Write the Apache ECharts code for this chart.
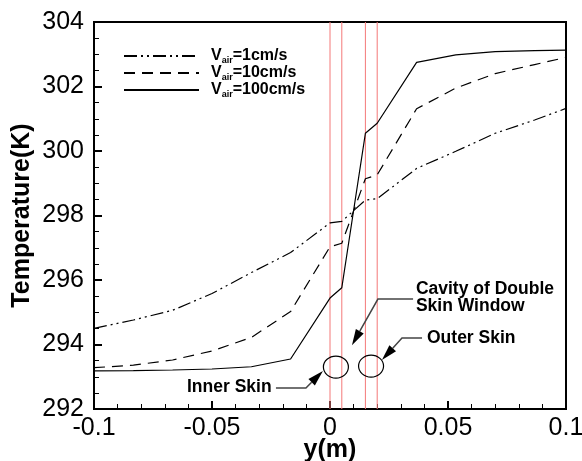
<!DOCTYPE html>
<html>
<head>
<meta charset="utf-8">
<script src="https://cdn.jsdelivr.net/npm/echarts@6/dist/echarts.min.js"></script>
<style>
  html, body { margin: 0; padding: 0; background: #fff; }
  #chart { width: 582px; height: 461px; }
</style>
</head>
<body>
<div id="chart"></div>
<script>
// position across the wall, m
var yPos = [-0.1, -0.0833, -0.0667, -0.05, -0.0333, -0.0167, 0, 0.005, 0.015, 0.02, 0.0367, 0.0533, 0.07, 0.0867, 0.1];
// temperatures (K) for each air velocity
var t1 = [294.50, 294.76, 295.06, 295.58, 296.23, 296.85, 297.77, 297.82, 298.48, 298.52, 299.46, 299.99, 300.55, 300.96, 301.32];
var t10 = [293.28, 293.36, 293.52, 293.80, 294.22, 295.02, 297.03, 297.14, 299.14, 299.26, 301.31, 301.95, 302.40, 302.68, 302.90];
var t100 = [293.18, 293.19, 293.21, 293.24, 293.31, 293.55, 295.44, 295.76, 300.55, 300.86, 302.75, 302.98, 303.08, 303.11, 303.13];
var names = ['1cm/s', '10cm/s', '100cm/s'];
// wall boundaries (red lines)
var walls = [0, 0.005, 0.015, 0.02];
var tRange = [292, 304];

function pairs(t) {
  return yPos.map(function (x, i) { return [x, t[i]]; });
}

var chart = echarts.init(document.getElementById('chart'));
var font = 'Liberation Sans, Arial, sans-serif';

var series = [
  { name: names[0], dash: [13, 4, 2, 4, 2, 4], data: t1 },
  { name: names[1], dash: [11, 7], data: t10 },
  { name: names[2], dash: 'solid', data: t100 }
].map(function (s) {
  return {
    name: s.name, type: 'line', data: pairs(s.data), showSymbol: false, symbol: 'none', z: 3,
    itemStyle: { color: '#000' },
    lineStyle: { color: '#000', width: 1.2, type: s.dash }
  };
});
walls.forEach(function (w) {
  series.push({
    type: 'line', silent: true, symbol: 'none', showSymbol: false, z: 2,
    data: [[w, tRange[0]], [w, tRange[1]]],
    lineStyle: { color: '#f47878', width: 1 }
  });
});

var option = {
  animation: false,
  grid: { left: 94, right: 16, top: 22, bottom: 52, outerBoundsMode: 'none',
    show: true, borderColor: '#000', borderWidth: 2 },
  legend: {
    orient: 'vertical',
    left: 123,
    top: 48,
    padding: 0,
    itemWidth: 75,
    itemHeight: 14,
    itemGap: 0,
    data: names,
    itemStyle: { opacity: 0 },
    formatter: function (n) { return '{v|V}{s|air}{t|=' + n + '}'; },
    textStyle: {
      fontFamily: font,
      rich: {
        v: { fontSize: 16, fontWeight: 'bold', color: '#000', lineHeight: 18, padding: [0, 0, 0, 7] },
        s: { fontSize: 9, fontWeight: 'bold', color: '#000', lineHeight: 9, verticalAlign: 'bottom' },
        t: { fontSize: 16, fontWeight: 'bold', color: '#000', lineHeight: 18 }
      }
    }
  },
  xAxis: {
    type: 'value', min: -0.1, max: 0.1, interval: 0.05,
    name: 'y(m)', nameLocation: 'middle', nameGap: 29, nameMoveOverlap: false,
    nameTextStyle: { fontFamily: font, fontSize: 25, fontWeight: 'bold', color: '#000' },
    axisLine: { onZero: false, lineStyle: { color: '#000', width: 2 } },
    axisTick: { inside: true, length: 8, lineStyle: { color: '#000', width: 2 } },
    minorTick: { show: true, splitNumber: 5, length: 5, lineStyle: { color: '#000', width: 1 } },
    splitLine: { show: false },
    axisLabel: {
      fontFamily: font, fontSize: 25, color: '#000', margin: 7,
      formatter: function (v) { return String(parseFloat(v.toFixed(3))); }
    }
  },
  yAxis: {
    type: 'value', min: tRange[0], max: tRange[1], interval: 2,
    name: 'Temperature(K)', nameLocation: 'middle', nameGap: 59, nameMoveOverlap: false,
    nameTextStyle: { fontFamily: font, fontSize: 25, fontWeight: 'bold', color: '#000' },
    axisLine: { onZero: false, lineStyle: { color: '#000', width: 2 } },
    axisTick: { inside: true, length: 8, lineStyle: { color: '#000', width: 2 } },
    minorTick: { show: true, splitNumber: 4, length: 5, lineStyle: { color: '#000', width: 1 } },
    splitLine: { show: false },
    axisLabel: { fontFamily: font, fontSize: 25, color: '#000', margin: 10 }
  },
  series: series
};
chart.setOption(option);

// annotations, anchored in data units
var ellipses = [[0.0025, 293.30], [0.0174, 293.33]];
var labels = [
  { text: 'Inner Skin', at: [-0.0606, 292.68], path: [[-0.0229, 292.65], [-0.0102, 292.65], [-0.003, 293.18]] },
  { text: 'Cavity of Double\nSkin Window', at: [0.0364, 295.44], path: [[0.0352, 295.41], [0.0203, 295.41], [0.0093, 293.98]] },
  { text: 'Outer Skin', at: [0.0411, 294.20], path: [[0.039, 294.2], [0.0305, 294.2], [0.022, 293.52]] }
];

function px(p) { return chart.convertToPixel({ gridIndex: 0 }, p); }

var g = [];
ellipses.forEach(function (e) {
  var c = px(e);
  g.push({ type: 'ellipse', shape: { cx: c[0], cy: c[1], rx: 12.5, ry: 11 },
    style: { fill: 'none', stroke: '#000', lineWidth: 1.2 }, z: 100 });
});
labels.forEach(function (l) {
  var a = px(l.at);
  g.push({ type: 'text', x: a[0], y: a[1], z: 100,
    style: { text: l.text, font: 'bold 17.5px ' + font, fill: '#000', verticalAlign: 'middle', lineHeight: 17 } });
  var pts = l.path.map(px);
  var tip = pts[pts.length - 1], knee = pts[pts.length - 2];
  var dx = tip[0] - knee[0], dy = tip[1] - knee[1];
  var len = Math.sqrt(dx * dx + dy * dy);
  var ux = dx / len, uy = dy / len;
  var bx = tip[0] - ux * 16, by = tip[1] - uy * 16;
  var end = pts.slice(0, -1).concat([[bx, by]]);
  g.push({ type: 'polyline', shape: { points: end }, z: 100,
    style: { fill: 'none', stroke: '#444', lineWidth: 1.5 } });
  g.push({ type: 'polygon', z: 100,
    shape: { points: [tip, [bx - uy * 4.5, by + ux * 4.5], [bx + uy * 4.5, by - ux * 4.5]] },
    style: { fill: '#000' } });
});
chart.setOption({ graphic: g });
</script>
</body>
</html>
